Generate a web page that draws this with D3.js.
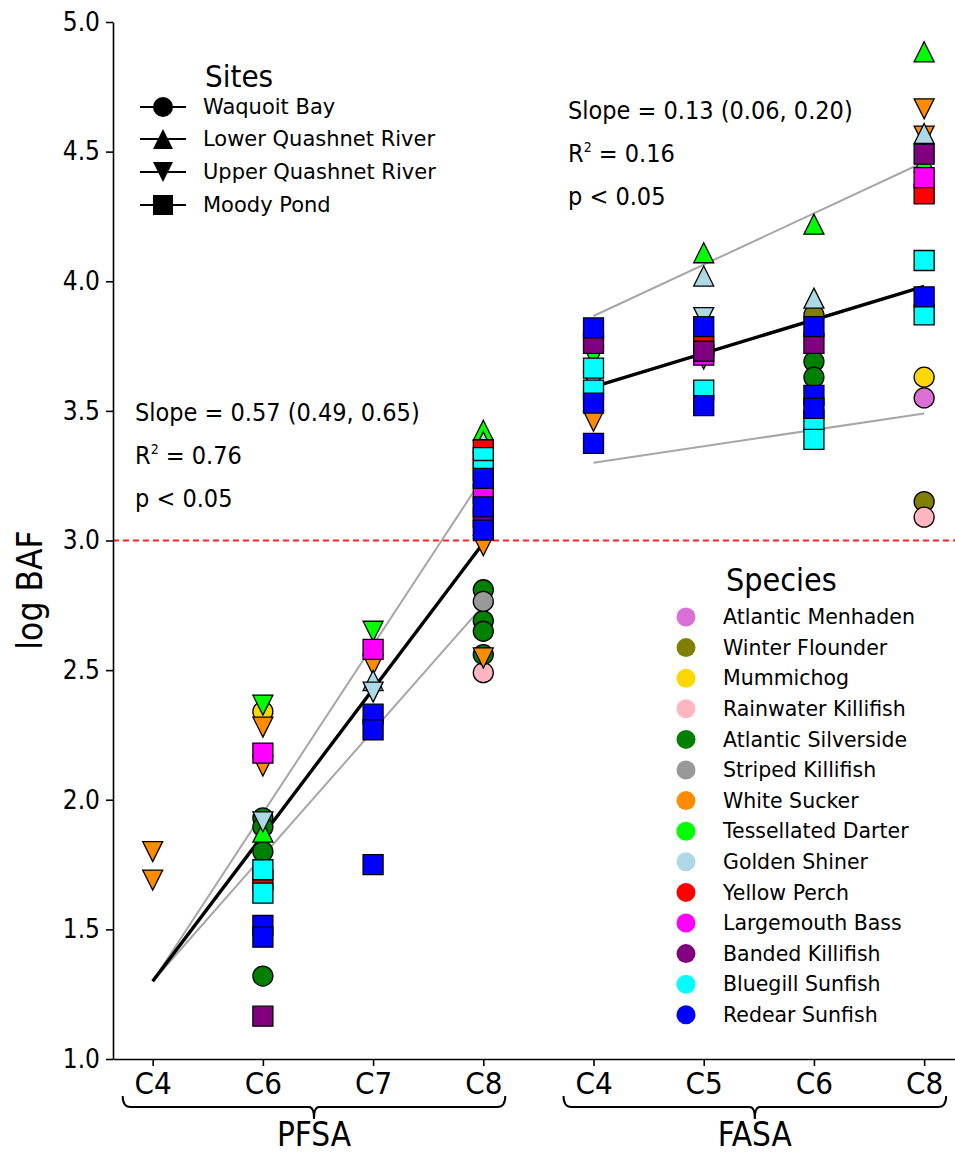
<!DOCTYPE html>
<html>
<head>
<meta charset="utf-8">
<script src="https://cdn.jsdelivr.net/npm/d3@7"></script>
<style>
  body { margin: 0; background: #fff; }
  svg { display: block; }
</style>
</head>
<body>
<div id="chart"></div>
<script>
// categories along x (two groups)
var xLabels = ["C4", "C6", "C7", "C8", "C4", "C5", "C6", "C8"];
var groups = [
  { name: "PFSA", from: 0, to: 3 },
  { name: "FASA", from: 4, to: 7 }
];

var species = ["Atlantic Menhaden", "Winter Flounder", "Mummichog", "Rainwater Killifish",
  "Atlantic Silverside", "Striped Killifish", "White Sucker", "Tessellated Darter",
  "Golden Shiner", "Yellow Perch", "Largemouth Bass", "Banded Killifish",
  "Bluegill Sunfish", "Redear Sunfish"];
var speciesColors = ["#da70d6", "#808000", "#ffd700", "#ffb6c1", "#008000", "#999999",
  "#ff8c00", "#00ff00", "#add8e6", "#ff0000", "#ff00ff", "#800080", "#00ffff", "#0000ff"];

// site codes -> marker
var sites = ["Waquoit Bay", "Lower Quashnet River", "Upper Quashnet River", "Moody Pond"];
var siteCodes = ["WB", "LQ", "UQ", "MP"];

// [species, site, log BAF] for each column
var pfsaC4 = [
  ["White Sucker", "UQ", 1.80], ["White Sucker", "UQ", 1.69]
];
var pfsaC6 = [
  ["Mummichog", "WB", 2.34],
  ["Atlantic Silverside", "WB", 1.93], ["Atlantic Silverside", "WB", 1.895],
  ["Atlantic Silverside", "WB", 1.80], ["Atlantic Silverside", "WB", 1.32],
  ["White Sucker", "UQ", 2.28], ["White Sucker", "UQ", 2.13],
  ["Tessellated Darter", "UQ", 2.365], ["Tessellated Darter", "LQ", 1.875],
  ["Golden Shiner", "UQ", 1.915],
  ["Yellow Perch", "MP", 1.69],
  ["Largemouth Bass", "MP", 2.18],
  ["Banded Killifish", "MP", 1.165],
  ["Bluegill Sunfish", "MP", 1.73], ["Bluegill Sunfish", "MP", 1.64],
  ["Redear Sunfish", "MP", 1.515], ["Redear Sunfish", "MP", 1.47]
];
var pfsaC7 = [
  ["White Sucker", "UQ", 2.52],
  ["Tessellated Darter", "UQ", 2.65],
  ["Golden Shiner", "LQ", 2.46], ["Golden Shiner", "UQ", 2.415],
  ["Largemouth Bass", "MP", 2.58],
  ["Redear Sunfish", "MP", 2.33], ["Redear Sunfish", "MP", 2.27], ["Redear Sunfish", "MP", 1.75]
];
var pfsaC8 = [
  ["Rainwater Killifish", "WB", 2.49],
  ["Atlantic Silverside", "WB", 2.81], ["Atlantic Silverside", "WB", 2.69],
  ["Atlantic Silverside", "WB", 2.65], ["Atlantic Silverside", "WB", 2.56],
  ["Striped Killifish", "WB", 2.765],
  ["White Sucker", "UQ", 2.98], ["White Sucker", "UQ", 2.547],
  ["Tessellated Darter", "LQ", 3.425],
  ["Golden Shiner", "LQ", 3.38],
  ["Yellow Perch", "MP", 3.35],
  ["Largemouth Bass", "MP", 3.18],
  ["Banded Killifish", "MP", 3.09],
  ["Bluegill Sunfish", "MP", 3.32], ["Bluegill Sunfish", "MP", 3.27],
  ["Redear Sunfish", "MP", 3.24], ["Redear Sunfish", "MP", 3.13], ["Redear Sunfish", "MP", 3.04]
];
var fasaC4 = [
  ["White Sucker", "UQ", 3.46],
  ["Tessellated Darter", "UQ", 3.71],
  ["Golden Shiner", "LQ", 3.62], ["Golden Shiner", "UQ", 3.61],
  ["Banded Killifish", "MP", 3.76],
  ["Bluegill Sunfish", "MP", 3.665], ["Bluegill Sunfish", "MP", 3.58],
  ["Redear Sunfish", "MP", 3.82], ["Redear Sunfish", "MP", 3.53], ["Redear Sunfish", "MP", 3.375]
];
var fasaC5 = [
  ["White Sucker", "UQ", 3.70],
  ["Tessellated Darter", "LQ", 4.11],
  ["Golden Shiner", "LQ", 4.02], ["Golden Shiner", "UQ", 3.86],
  ["Yellow Perch", "MP", 3.75],
  ["Largemouth Bass", "MP", 3.715],
  ["Banded Killifish", "MP", 3.73],
  ["Bluegill Sunfish", "MP", 3.58],
  ["Redear Sunfish", "MP", 3.825], ["Redear Sunfish", "MP", 3.52]
];
var fasaC6 = [
  ["Winter Flounder", "WB", 3.87],
  ["Atlantic Silverside", "WB", 3.69], ["Atlantic Silverside", "WB", 3.63],
  ["Tessellated Darter", "LQ", 4.22],
  ["Golden Shiner", "LQ", 3.935],
  ["Banded Killifish", "MP", 3.76],
  ["Bluegill Sunfish", "MP", 3.465], ["Bluegill Sunfish", "MP", 3.39],
  ["Redear Sunfish", "MP", 3.825], ["Redear Sunfish", "MP", 3.56], ["Redear Sunfish", "MP", 3.51]
];
var fasaC8 = [
  ["Atlantic Menhaden", "WB", 3.55],
  ["Winter Flounder", "WB", 3.15],
  ["Mummichog", "WB", 3.63],
  ["Rainwater Killifish", "WB", 3.09],
  ["White Sucker", "UQ", 4.665], ["White Sucker", "UQ", 4.56],
  ["Tessellated Darter", "LQ", 4.885], ["Tessellated Darter", "LQ", 4.46],
  ["Golden Shiner", "LQ", 4.57],
  ["Yellow Perch", "MP", 4.337],
  ["Largemouth Bass", "MP", 4.40],
  ["Banded Killifish", "MP", 4.49],
  ["Bluegill Sunfish", "MP", 4.08], ["Bluegill Sunfish", "MP", 3.87],
  ["Redear Sunfish", "MP", 3.94]
];
var columns = [pfsaC4, pfsaC6, pfsaC7, pfsaC8, fasaC4, fasaC5, fasaC6, fasaC8];

// regression lines [x index, log BAF] and their confidence bounds
var pfsaFit = [[0, 1.30], [3, 2.99]];
var pfsaUpper = [[0, 1.30], [3, 3.245]];
var pfsaLower = [[0, 1.30], [3, 2.75]];
var fasaFit = [[4, 3.593], [7, 3.98]];
var fasaUpper = [[4, 3.866], [7, 4.46]];
var fasaLower = [[4, 3.30], [7, 3.49]];

var yTicks = [1.0, 1.5, 2.0, 2.5, 3.0, 3.5, 4.0, 4.5, 5.0];
var threshold = 3.0;

var annotations = [
  { x: 135, y: 421, lines: ["Slope = 0.57 (0.49, 0.65)", "R2 = 0.76", "p < 0.05"] },
  { x: 568, y: 119, lines: ["Slope = 0.13 (0.06, 0.20)", "R2 = 0.16", "p < 0.05"] }
];

var W = 955, H = 1155;
var condensed = "'DejaVu Sans Condensed', 'Liberation Sans Narrow', sans-serif";
var plain = "'DejaVu Sans', sans-serif";

var svg = d3.select("#chart").append("svg")
    .attr("width", W)
    .attr("height", H);

var x = d3.scaleLinear().domain([-0.36, 7.28]).range([113, 955]);
var y = d3.scaleLinear().domain([1, 5]).range([1059, 22]);

// threshold line
svg.append("line")
    .attr("x1", x(-0.36)).attr("x2", x(7.28))
    .attr("y1", y(threshold)).attr("y2", y(threshold))
    .attr("stroke", "#ff2020")
    .attr("stroke-width", 2)
    .attr("stroke-dasharray", "6,4");

// fit lines
var line = d3.line().x(function(d) { return x(d[0]); }).y(function(d) { return y(d[1]); });
[pfsaUpper, pfsaLower, fasaUpper, fasaLower].forEach(function(l) {
    svg.append("path").attr("d", line(l))
        .attr("fill", "none").attr("stroke", "#a6a6a6").attr("stroke-width", 2);
});
[pfsaFit, fasaFit].forEach(function(l) {
    svg.append("path").attr("d", line(l))
        .attr("fill", "none").attr("stroke", "#000").attr("stroke-width", 3.4);
});

function markerPath(code, cx, cy, s) {
    var h = s / 2;
    if (code === "WB") {
        return "M" + (cx - h) + "," + cy + "a" + h + "," + h + " 0 1,0 " + s + ",0a" + h + "," + h + " 0 1,0 " + (-s) + ",0Z";
    }
    if (code === "LQ") {
        return "M" + cx + "," + (cy - h) + "L" + (cx + h) + "," + (cy + h) + "L" + (cx - h) + "," + (cy + h) + "Z";
    }
    if (code === "UQ") {
        return "M" + cx + "," + (cy + h) + "L" + (cx + h) + "," + (cy - h) + "L" + (cx - h) + "," + (cy - h) + "Z";
    }
    return "M" + (cx - h) + "," + (cy - h) + "h" + s + "v" + s + "h" + (-s) + "Z";
}

var points = [];
columns.forEach(function(col, i) {
    col.forEach(function(d) {
        points.push({ xi: i, sp: species.indexOf(d[0]), site: d[1], v: d[2] });
    });
});
// draw in legend order, later species on top
points.sort(function(a, b) { return a.sp - b.sp; });

svg.append("g").selectAll("path")
    .data(points)
    .enter().append("path")
    .attr("d", function(d) { return markerPath(d.site, x(d.xi), y(d.v), 20); })
    .attr("fill", function(d) { return speciesColors[d.sp]; })
    .attr("stroke", "#000")
    .attr("stroke-width", 1.3);

// axes
var yAxis = svg.append("g")
    .attr("transform", "translate(113,0)")
    .call(d3.axisLeft(y).tickValues(yTicks).tickFormat(d3.format(".1f")).tickSize(7).tickSizeOuter(0));
yAxis.select(".domain").attr("stroke-width", 1.6);
yAxis.selectAll(".tick line").attr("stroke-width", 1.6);
yAxis.selectAll("text").attr("font-family", condensed).attr("font-size", 26).attr("fill", "#000").attr("dx", "-3");

var xAxis = svg.append("g")
    .attr("transform", "translate(0,1059)")
    .call(d3.axisBottom(x).tickValues(d3.range(8)).tickFormat(function(i) { return xLabels[i]; }).tickSize(7).tickSizeOuter(0));
xAxis.select(".domain").attr("stroke-width", 1.6);
xAxis.selectAll(".tick line").attr("stroke-width", 1.6);
xAxis.selectAll("text").attr("font-family", condensed).attr("font-size", 31).attr("fill", "#000").attr("dy", "0.8em");

// group braces
groups.forEach(function(g) {
    var x1 = x(g.from) - 30, x2 = x(g.to) + 22, mid = (x1 + x2) / 2;
    var top = 1096, bar = 1107;
    svg.append("path")
        .attr("d", "M" + x1 + "," + top + "Q" + x1 + "," + bar + " " + (x1 + 8) + "," + bar +
            "L" + (mid - 5) + "," + bar + "Q" + mid + "," + bar + " " + mid + "," + (bar + 12) +
            "Q" + mid + "," + bar + " " + (mid + 5) + "," + bar +
            "L" + (x2 - 8) + "," + bar + "Q" + x2 + "," + bar + " " + x2 + "," + top)
        .attr("fill", "none").attr("stroke", "#000").attr("stroke-width", 2);
    svg.append("text")
        .attr("x", mid).attr("y", 1146)
        .attr("text-anchor", "middle")
        .attr("font-family", condensed).attr("font-size", 33)
        .text(g.name);
});

// y label
svg.append("text")
    .attr("transform", "translate(42,590) rotate(-90)")
    .attr("text-anchor", "middle")
    .attr("font-family", condensed).attr("font-size", 35)
    .text("log BAF");

// regression annotations
annotations.forEach(function(a) {
    a.lines.forEach(function(t, k) {
        var tx = svg.append("text")
            .attr("x", a.x).attr("y", a.y + k * 43)
            .attr("font-family", condensed).attr("font-size", 25);
        if (t.indexOf("R2") === 0) {
            tx.append("tspan").text("R");
            tx.append("tspan").attr("font-size", 14).attr("dy", -10).text("2");
            tx.append("tspan").attr("dy", 10).text(t.slice(2));
        } else {
            tx.text(t);
        }
    });
});

// sites legend
svg.append("text").attr("x", 205).attr("y", 87)
    .attr("font-family", condensed).attr("font-size", 31).text("Sites");
var sitesY = [107, 139, 172, 205];
sites.forEach(function(s, i) {
    var g = svg.append("g");
    g.append("line").attr("x1", 140).attr("x2", 186).attr("y1", sitesY[i]).attr("y2", sitesY[i])
        .attr("stroke", "#000").attr("stroke-width", 2);
    g.append("path").attr("d", markerPath(siteCodes[i], 163, sitesY[i], 20)).attr("fill", "#000");
    g.append("text").attr("x", 203).attr("y", sitesY[i]).attr("dy", "0.35em")
        .attr("font-family", plain).attr("font-size", 21).text(s);
});

// species legend
svg.append("text").attr("x", 726).attr("y", 591)
    .attr("font-family", condensed).attr("font-size", 32).text("Species");
species.forEach(function(s, i) {
    var yy = 617 + i * 30.6;
    svg.append("circle").attr("cx", 686).attr("cy", yy).attr("r", 9.5).attr("fill", speciesColors[i]);
    svg.append("text").attr("x", 723).attr("y", yy).attr("dy", "0.35em")
        .attr("font-family", plain).attr("font-size", 20.5).text(s);
});
</script>
</body>
</html>
